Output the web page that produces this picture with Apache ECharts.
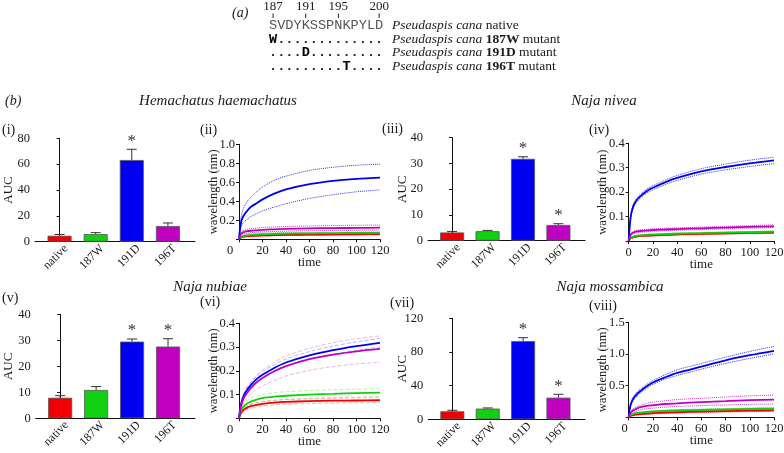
<!DOCTYPE html>
<html><head><meta charset="utf-8">
<script src="https://cdn.jsdelivr.net/npm/echarts@6/dist/echarts.min.js"></script>
<style>html,body{margin:0;padding:0;background:#fff}#c{width:784px;height:453px}</style>
</head><body><div id="c"></div>
<script>
// ---------- data ----------
const groups = ['native', '187W', '191D', '196T'];
const colors = ['#f00000', '#10d010', '#0000f0', '#c000c0'];

const aucHH = [4.6, 5.9, 63.2, 12.1];
const aucHHErr = [5.6, 7.0, 71.5, 14.5];
const sigHH = [0, 0, 1, 0];

const aucNN = [3.2, 3.7, 31.8, 6.1];
const aucNNErr = [3.6, 4.0, 32.6, 6.6];
const sigNN = [0, 0, 1, 1];

const aucNU = [7.9, 10.9, 29.5, 27.6];
const aucNUErr = [8.7, 12.2, 30.5, 30.6];
const sigNU = [0, 0, 1, 1];

const aucNM = [9.5, 12.7, 93.0, 25.7];
const aucNMErr = [10.7, 13.5, 97.0, 29.7];
const sigNM = [0, 0, 1, 1];

const time = [0, 1, 2, 4, 7, 10, 15, 20, 30, 40, 60, 80, 100, 120];
const xTicks = [0, 20, 40, 60, 80, 100, 120];

// Hemachatus haemachatus (ii)
const hhRed      = [0, 0.012, 0.02, 0.028, 0.033, 0.036, 0.039, 0.041, 0.044, 0.046, 0.049, 0.051, 0.053, 0.054];
const hhRedHi    = [0, 0.016, 0.025, 0.034, 0.04, 0.043, 0.046, 0.048, 0.051, 0.053, 0.056, 0.058, 0.06, 0.061];
const hhRedLo    = [0, 0.008, 0.015, 0.022, 0.026, 0.029, 0.032, 0.034, 0.037, 0.039, 0.042, 0.044, 0.046, 0.047];
const hhGreen    = [0, 0.015, 0.025, 0.035, 0.042, 0.046, 0.05, 0.053, 0.057, 0.06, 0.063, 0.065, 0.067, 0.068];
const hhGreenHi  = [0, 0.02, 0.032, 0.044, 0.052, 0.057, 0.061, 0.064, 0.068, 0.071, 0.074, 0.076, 0.078, 0.079];
const hhGreenLo  = [0, 0.01, 0.018, 0.027, 0.033, 0.036, 0.04, 0.042, 0.046, 0.049, 0.052, 0.054, 0.056, 0.057];
const hhBlue     = [0, 0.12, 0.19, 0.25, 0.30, 0.34, 0.38, 0.42, 0.48, 0.525, 0.58, 0.615, 0.637, 0.65];
const hhBlueHi   = [0, 0.17, 0.25, 0.33, 0.40, 0.44, 0.50, 0.55, 0.62, 0.665, 0.725, 0.758, 0.78, 0.79];
const hhBlueLo   = [0, 0.09, 0.14, 0.18, 0.21, 0.24, 0.27, 0.30, 0.34, 0.375, 0.43, 0.47, 0.50, 0.52];
const hhMag      = [0, 0.04, 0.06, 0.075, 0.085, 0.09, 0.095, 0.1, 0.105, 0.11, 0.115, 0.118, 0.12, 0.122];
const hhMagHi    = [0, 0.05, 0.075, 0.095, 0.105, 0.11, 0.118, 0.125, 0.13, 0.135, 0.14, 0.145, 0.148, 0.15];
const hhMagLo    = [0, 0.03, 0.045, 0.06, 0.065, 0.07, 0.075, 0.078, 0.082, 0.085, 0.09, 0.092, 0.095, 0.097];

// Naja nivea (iv)
const nnRed      = [0, 0.007, 0.012, 0.016, 0.019, 0.021, 0.022, 0.023, 0.025, 0.027, 0.029, 0.031, 0.033, 0.034];
const nnRedHi    = [0, 0.009, 0.015, 0.019, 0.022, 0.024, 0.025, 0.026, 0.028, 0.03, 0.032, 0.034, 0.036, 0.037];
const nnRedLo    = [0, 0.005, 0.009, 0.013, 0.016, 0.018, 0.019, 0.02, 0.022, 0.024, 0.026, 0.028, 0.03, 0.031];
const nnGreen    = [0, 0.008, 0.013, 0.018, 0.021, 0.023, 0.025, 0.026, 0.028, 0.03, 0.032, 0.034, 0.036, 0.038];
const nnGreenHi  = [0, 0.01, 0.016, 0.021, 0.024, 0.026, 0.028, 0.029, 0.031, 0.033, 0.035, 0.037, 0.039, 0.041];
const nnGreenLo  = [0, 0.006, 0.01, 0.015, 0.018, 0.02, 0.022, 0.023, 0.025, 0.027, 0.029, 0.031, 0.033, 0.035];
const nnBlue     = [0, 0.07, 0.11, 0.145, 0.17, 0.185, 0.205, 0.218, 0.24, 0.258, 0.285, 0.303, 0.318, 0.33];
const nnBlueHi   = [0, 0.075, 0.118, 0.153, 0.178, 0.193, 0.213, 0.226, 0.249, 0.268, 0.296, 0.315, 0.331, 0.343];
const nnBlueLo   = [0, 0.065, 0.102, 0.137, 0.162, 0.177, 0.197, 0.21, 0.231, 0.248, 0.274, 0.291, 0.305, 0.317];
const nnMag      = [0, 0.018, 0.028, 0.035, 0.039, 0.041, 0.043, 0.045, 0.047, 0.049, 0.052, 0.055, 0.058, 0.06];
const nnMagHi    = [0, 0.021, 0.032, 0.04, 0.044, 0.046, 0.048, 0.05, 0.052, 0.054, 0.057, 0.06, 0.063, 0.066];
const nnMagLo    = [0, 0.015, 0.024, 0.03, 0.034, 0.036, 0.038, 0.04, 0.042, 0.044, 0.047, 0.05, 0.053, 0.055];

// Naja nubiae (vi)
const nuRed      = [0, 0.015, 0.025, 0.036, 0.045, 0.051, 0.057, 0.061, 0.066, 0.069, 0.072, 0.074, 0.075, 0.076];
const nuRedHi    = [0, 0.018, 0.03, 0.043, 0.053, 0.06, 0.066, 0.07, 0.076, 0.079, 0.082, 0.084, 0.086, 0.087];
const nuRedLo    = [0, 0.012, 0.02, 0.029, 0.037, 0.042, 0.048, 0.052, 0.056, 0.059, 0.062, 0.064, 0.065, 0.066];
const nuGreen    = [0, 0.02, 0.033, 0.05, 0.062, 0.07, 0.079, 0.085, 0.091, 0.095, 0.1, 0.103, 0.106, 0.108];
const nuGreenHi  = [0, 0.024, 0.04, 0.06, 0.074, 0.084, 0.094, 0.101, 0.108, 0.112, 0.117, 0.12, 0.122, 0.124];
const nuGreenLo  = [0, 0.016, 0.027, 0.041, 0.051, 0.058, 0.065, 0.07, 0.075, 0.079, 0.084, 0.087, 0.09, 0.092];
const nuBlue     = [0, 0.04, 0.065, 0.095, 0.12, 0.14, 0.165, 0.183, 0.212, 0.235, 0.265, 0.287, 0.304, 0.318];
const nuBlueHi   = [0, 0.045, 0.072, 0.103, 0.13, 0.15, 0.177, 0.196, 0.226, 0.25, 0.281, 0.304, 0.322, 0.336];
const nuBlueLo   = [0, 0.035, 0.058, 0.087, 0.11, 0.13, 0.153, 0.17, 0.198, 0.22, 0.249, 0.27, 0.286, 0.3];
const nuMag      = [0, 0.035, 0.058, 0.085, 0.108, 0.127, 0.152, 0.17, 0.198, 0.22, 0.249, 0.268, 0.282, 0.292];
const nuMagHi    = [0, 0.042, 0.07, 0.102, 0.13, 0.152, 0.182, 0.203, 0.236, 0.262, 0.295, 0.318, 0.335, 0.347];
const nuMagLo    = [0, 0.028, 0.046, 0.068, 0.086, 0.102, 0.122, 0.137, 0.16, 0.178, 0.202, 0.218, 0.229, 0.236];

// Naja mossambica (viii)
const nmRed      = [0, 0.015, 0.025, 0.035, 0.045, 0.05, 0.058, 0.065, 0.074, 0.08, 0.09, 0.098, 0.105, 0.11];
const nmRedHi    = [0, 0.02, 0.031, 0.043, 0.054, 0.06, 0.069, 0.077, 0.087, 0.093, 0.104, 0.112, 0.12, 0.125];
const nmRedLo    = [0, 0.01, 0.019, 0.027, 0.036, 0.04, 0.047, 0.053, 0.061, 0.067, 0.076, 0.084, 0.09, 0.095];
const nmGreen    = [0, 0.025, 0.04, 0.055, 0.068, 0.075, 0.085, 0.092, 0.1, 0.107, 0.117, 0.125, 0.132, 0.138];
const nmGreenHi  = [0, 0.03, 0.047, 0.064, 0.078, 0.086, 0.097, 0.104, 0.113, 0.12, 0.13, 0.138, 0.145, 0.151];
const nmGreenLo  = [0, 0.02, 0.033, 0.046, 0.058, 0.064, 0.073, 0.08, 0.087, 0.094, 0.104, 0.112, 0.119, 0.125];
const nmBlue     = [0, 0.15, 0.22, 0.3, 0.37, 0.42, 0.49, 0.55, 0.63, 0.7, 0.8, 0.9, 0.98, 1.05];
const nmBlueHi   = [0, 0.16, 0.24, 0.33, 0.4, 0.45, 0.52, 0.58, 0.67, 0.75, 0.85, 0.95, 1.04, 1.12];
const nmBlueLo   = [0, 0.14, 0.2, 0.27, 0.34, 0.39, 0.46, 0.52, 0.6, 0.66, 0.76, 0.85, 0.93, 1.0];
const nmMag      = [0, 0.05, 0.08, 0.11, 0.14, 0.16, 0.18, 0.19, 0.21, 0.22, 0.24, 0.255, 0.27, 0.28];
const nmMagHi    = [0, 0.07, 0.1, 0.14, 0.17, 0.19, 0.22, 0.24, 0.26, 0.28, 0.3, 0.32, 0.34, 0.35];
const nmMagLo    = [0, 0.035, 0.055, 0.08, 0.1, 0.12, 0.135, 0.145, 0.16, 0.17, 0.185, 0.195, 0.205, 0.21];

// sequence panel (a)
const seqNumbers = ['187', '191', '195', '200'];
const seqNumberIdx = [0, 4, 8, 13];
const seqNative = 'SVDYKSSPNKPYLD';
const seqMutants = [['W', 0], ['D', 4], ['T', 9]];
const speciesName = 'Pseudaspis cana';
const mutantNames = ['187W', '191D', '196T'];

const titles = ['Hemachatus haemachatus', 'Naja nivea', 'Naja nubiae', 'Naja mossambica'];

// ---------- layout ----------
const SERIF = 'Liberation Serif';
const MONO = 'Liberation Mono';
const TXT = '#1a1a1a';

const barPanels = [
  { box: [35, 138.3, 195, 241.7], vals: aucHH, errs: aucHHErr, sig: sigHH, max: 80, interval: 20, gap: 20 },
  { box: [428, 137.7, 585, 240.7], vals: aucNN, errs: aucNNErr, sig: sigNN, max: 40, interval: 10, gap: 19 },
  { box: [35.7, 314.3, 195, 418.3], vals: aucNU, errs: aucNUErr, sig: sigNU, max: 40, interval: 10, gap: 21 },
  { box: [428.3, 318.3, 585, 419.3], vals: aucNM, errs: aucNMErr, sig: sigNM, max: 120, interval: 40, gap: 19 }
];
const linePanels = [
  { box: [239, 144.3, 380, 239.3], max: 1.0, interval: 0.2, zeroShift: 18, faint: false,
    lines: [[hhRed, hhRedHi, hhRedLo], [hhGreen, hhGreenHi, hhGreenLo], [hhBlue, hhBlueHi, hhBlueLo], [hhMag, hhMagHi, hhMagLo]] },
  { box: [628.7, 143.3, 774, 241], max: 0.4, interval: 0.1, zeroShift: 0, faint: false,
    lines: [[nnRed, nnRedHi, nnRedLo], [nnGreen, nnGreenHi, nnGreenLo], [nnBlue, nnBlueHi, nnBlueLo], [nnMag, nnMagHi, nnMagLo]] },
  { box: [239, 323.3, 380, 418.3], max: 0.4, interval: 0.1, zeroShift: 18, faint: true,
    lines: [[nuRed, nuRedHi, nuRedLo], [nuGreen, nuGreenHi, nuGreenLo], [nuBlue, nuBlueHi, nuBlueLo], [nuMag, nuMagHi, nuMagLo]] },
  { box: [628.7, 322.3, 774, 417.3], max: 1.5, interval: 0.5, zeroShift: 8, faint: false,
    lines: [[nmRed, nmRedHi, nmRedLo], [nmGreen, nmGreenHi, nmGreenLo], [nmBlue, nmBlueHi, nmBlueLo], [nmMag, nmMagHi, nmMagLo]] }
];

const grid = [], xAxis = [], yAxis = [], series = [];
const axisLineStyle = { color: '#111', width: 1 };

barPanels.forEach((p) => {
  const k = grid.length;
  const [l, t, r, b] = p.box;
  grid.push({ left: l, top: t, width: r - l, height: b - t, outerBoundsMode: 'none', containLabel: false });
  xAxis.push({
    gridIndex: k, type: 'value', min: -0.68, max: 3.75,
    axisLine: { lineStyle: axisLineStyle }, axisTick: { show: false }, splitLine: { show: false },
    axisLabel: {
      customValues: [0.18, 1.18, 2.18, 3.18], rotate: 45, margin: 5,
      formatter: (v) => groups[Math.round(v)] || '',
      fontFamily: SERIF, fontSize: 12, color: TXT
    }
  });
  yAxis.push({
    gridIndex: k, type: 'value', min: 0, max: p.max, interval: p.interval,
    name: 'AUC', nameLocation: 'middle', nameGap: p.gap, nameRotate: 90, nameMoveOverlap: false,
    nameTextStyle: { fontFamily: SERIF, fontSize: 13, color: TXT },
    axisLine: { show: true, lineStyle: axisLineStyle },
    axisTick: { show: true, length: 3, lineStyle: axisLineStyle },
    splitLine: { show: false },
    axisLabel: { margin: 5, fontFamily: SERIF, fontSize: 12.5, color: TXT }
  });
  series.push({
    type: 'bar', xAxisIndex: k, yAxisIndex: k, barWidth: 24,
    data: p.vals.map((v, i) => ({ value: [i, v], itemStyle: { color: colors[i] } })),
    itemStyle: { borderColor: '#555', borderWidth: 0.8 },
    animation: false, silent: true
  });
  series.push({
    type: 'custom', xAxisIndex: k, yAxisIndex: k, animation: false, silent: true,
    data: p.vals.map((v, i) => [i, v, p.errs[i], p.sig[i]]),
    renderItem: (params, api) => {
      const x = api.value(0), v = api.value(1), e = api.value(2), s = api.value(3);
      const p0 = api.coord([x, v]), p1 = api.coord([x, e]);
      const st = { stroke: '#333', lineWidth: 1 };
      const children = [
        { type: 'line', shape: { x1: p0[0], y1: p0[1], x2: p1[0], y2: p1[1] }, style: st },
        { type: 'line', shape: { x1: p1[0] - 5, y1: p1[1], x2: p1[0] + 5, y2: p1[1] }, style: st }
      ];
      if (s) children.push({ type: 'text', style: { text: '*', x: p1[0], y: p1[1] - 8, align: 'center', verticalAlign: 'middle', fontFamily: SERIF, fontSize: 17, fill: '#333' } });
      return { type: 'group', children };
    }
  });
});

linePanels.forEach((p) => {
  const k = grid.length;
  const [l, t, r, b] = p.box;
  grid.push({ left: l, top: t, width: r - l, height: b - t, outerBoundsMode: 'none', containLabel: false });
  xAxis.push({
    gridIndex: k, type: 'value', min: 0, max: 120, interval: 20,
    name: 'time', nameLocation: 'middle', nameGap: 17, nameMoveOverlap: false,
    nameTextStyle: { fontFamily: SERIF, fontSize: 13, color: TXT },
    axisLine: { lineStyle: axisLineStyle },
    axisTick: { show: true, length: 3, lineStyle: axisLineStyle },
    splitLine: { show: false },
    axisLabel: {
      margin: 5, fontFamily: SERIF, fontSize: 12.5, color: TXT,
      formatter: (v) => v === 0 ? '{z|0}' : String(v),
      rich: { z: { fontFamily: SERIF, fontSize: 12.5, color: TXT, padding: [0, p.zeroShift, 0, 0] } }
    }
  });
  yAxis.push({
    gridIndex: k, type: 'value', min: 0, max: p.max, interval: p.interval,
    name: 'wavelength (nm)', nameLocation: 'middle', nameGap: 19, nameRotate: 90, nameMoveOverlap: false,
    nameTextStyle: { fontFamily: SERIF, fontSize: 12.5, color: TXT },
    axisLine: { show: true, lineStyle: axisLineStyle },
    axisTick: { show: true, length: 3, lineStyle: axisLineStyle },
    splitLine: { show: false },
    axisLabel: { margin: 4, fontFamily: SERIF, fontSize: 12.5, color: TXT, formatter: (v) => v === 0 ? '' : v.toFixed(1) }
  });
  p.lines.forEach((set, ci) => {
    [set[1], set[2]].forEach((arr) => {
      series.push({
        type: 'line', xAxisIndex: k, yAxisIndex: k, showSymbol: false, smooth: 0.3,
        data: time.map((tt, i) => [tt, arr[i]]),
        lineStyle: { color: colors[ci], width: 1, type: p.faint ? 'dashed' : 'dotted', opacity: p.faint ? 0.3 : 0.8 },
        animation: false, silent: true, z: 2
      });
    });
  });
  p.lines.forEach((set, ci) => {
    series.push({
      type: 'line', xAxisIndex: k, yAxisIndex: k, showSymbol: false, smooth: 0.3,
      data: time.map((tt, i) => [tt, set[0][i]]),
      lineStyle: { color: colors[ci], width: 1.8 },
      animation: false, silent: true, z: 3
    });
  });
});

// ---------- text / graphic ----------
const graphic = [];
const CH = 8.16, SEQX = 269;
const rowsY = [25, 39.3, 52.7, 66.7];
graphic.push({ type: 'text', left: 232, top: 6, style: { text: '(a)', font: 'italic 14px ' + SERIF, fill: TXT } });
seqNumbers.forEach((n, i) => {
  const cx = SEQX + CH * (seqNumberIdx[i] + 0.5);
  graphic.push({ type: 'text', x: cx, y: 7, style: { text: n, align: 'center', verticalAlign: 'middle', font: '13px ' + SERIF, fill: TXT } });
  graphic.push({ type: 'line', shape: { x1: cx, y1: 13.5, x2: cx, y2: 18 }, style: { stroke: '#222', lineWidth: 1 } });
});
graphic.push({ type: 'text', x: SEQX, y: rowsY[0], style: { text: seqNative, verticalAlign: 'middle', font: '13.6px ' + MONO, fill: '#555' } });
seqMutants.forEach(([ch, idx], r) => {
  const s = '.'.repeat(idx) + '{b|' + ch + '}' + '.'.repeat(seqNative.length - idx - 1);
  graphic.push({ type: 'text', x: SEQX, y: rowsY[r + 1], style: {
    text: s, verticalAlign: 'middle', font: 'bold 13.6px ' + MONO, fill: '#222',
    rich: { b: { fontFamily: MONO, fontSize: 13.6, fontWeight: 'bold', fill: '#000' } } } });
});
const rich = {
  i: { fontFamily: SERIF, fontSize: 13.5, fontStyle: 'italic', fill: TXT },
  n: { fontFamily: SERIF, fontSize: 13.5, fill: TXT },
  b: { fontFamily: SERIF, fontSize: 13.5, fontWeight: 'bold', fill: TXT }
};
graphic.push({ type: 'text', x: 392, y: rowsY[0], style: { text: '{i|' + speciesName + '}{n| native}', verticalAlign: 'middle', rich } });
mutantNames.forEach((m, r) => {
  graphic.push({ type: 'text', x: 392, y: rowsY[r + 1], style: { text: '{i|' + speciesName + '}{n| }{b|' + m + '}{n| mutant}', verticalAlign: 'middle', rich } });
});

graphic.push({ type: 'text', x: 5, y: 101, style: { text: '(b)', verticalAlign: 'middle', font: 'italic 14px ' + SERIF, fill: TXT } });
const titlePos = [[218, 101], [604, 101], [210, 287], [610, 287]];
titles.forEach((tt, i) => {
  graphic.push({ type: 'text', x: titlePos[i][0], y: titlePos[i][1], style: { text: tt, align: 'center', verticalAlign: 'middle', font: 'italic 15px ' + SERIF, fill: TXT } });
});
const panelLabels = [['(i)', 2, 130], ['(ii)', 200, 130], ['(iii)', 382, 129], ['(iv)', 589, 130],
                     ['(v)', 2, 298], ['(vi)', 200, 302], ['(vii)', 390, 303], ['(viii)', 589, 306]];
panelLabels.forEach(([s, x, y]) => {
  graphic.push({ type: 'text', x, y, style: { text: s, verticalAlign: 'middle', font: '14px ' + SERIF, fill: TXT } });
});

const chart = echarts.init(document.getElementById('c'), null, { renderer: 'canvas' });
chart.setOption({ animation: false, backgroundColor: '#fff', grid, xAxis, yAxis, series, graphic });
</script></body></html>
